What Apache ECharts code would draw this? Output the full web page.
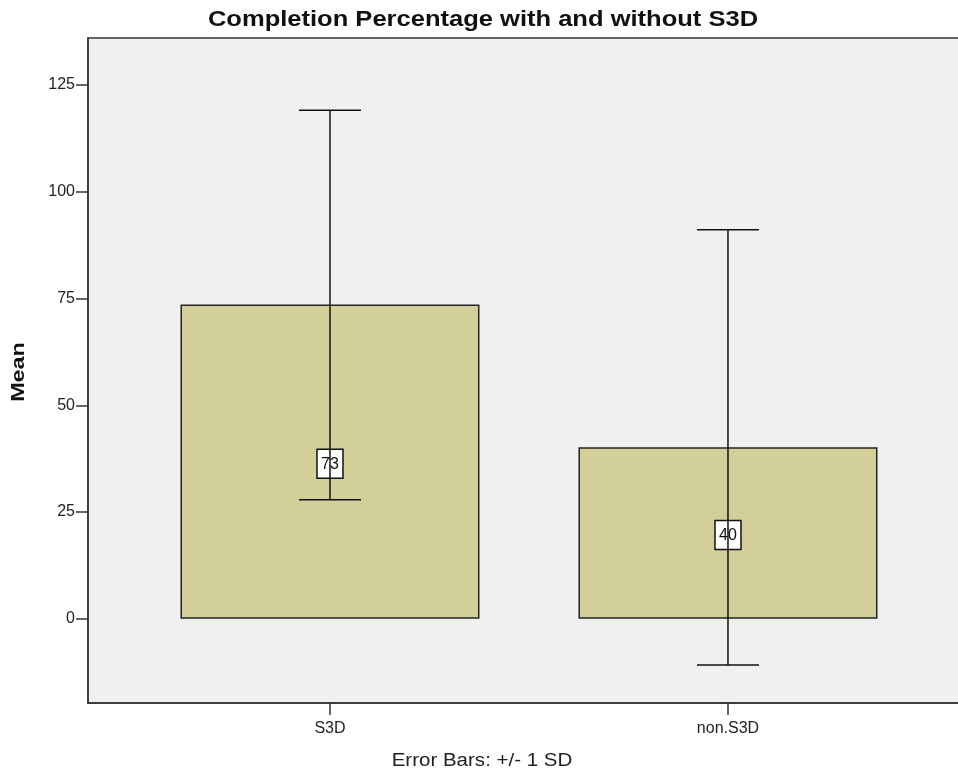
<!DOCTYPE html>
<html>
<head>
<meta charset="utf-8">
<script src="https://cdn.jsdelivr.net/npm/echarts@6/dist/echarts.min.js"></script>
<style>
html,body{margin:0;padding:0;background:#fff;}
#chart{width:958px;height:772px;}
</style>
</head>
<body>
<div id="chart"></div>
<script>
var categories = ['S3D', 'non.S3D'];
var means = [73.6, 40.2];
var upperSD = [119.1, 91.1];
var lowerSD = [27.9, -10.8];
var valueLabels = ['73', '40'];
var yTicks = [0, 25, 50, 75, 100, 125];
var xTicks = [0, 1];

var FONT = '"Liberation Sans", Arial, sans-serif';
var chart = echarts.init(document.getElementById('chart'), null, {renderer: 'canvas'});

var option = {
  backgroundColor: '#ffffff',
  animation: false,
  graphic: [
    {type: 'text', x: 483, y: 20, scaleX: 1.16,
     style: {text: 'Completion Percentage with and without S3D', align: 'center', verticalAlign: 'middle',
             font: 'bold 22px "Liberation Sans", Arial, sans-serif', fill: '#111'}},
    {type: 'text', x: 482, y: 761, scaleX: 1.14,
     style: {text: 'Error Bars: +/- 1 SD', align: 'center', verticalAlign: 'middle',
             font: '18px "Liberation Sans", Arial, sans-serif', fill: '#222'}},
    {type: 'text', x: 19, y: 372, rotation: Math.PI / 2, scaleX: 1.23,
     style: {text: 'Mean', align: 'center', verticalAlign: 'middle',
             font: 'bold 19px "Liberation Sans", Arial, sans-serif', fill: '#111'}}
  ],
  grid: {
    left: 88, right: -5, top: 38, bottom: 69, outerBoundsMode: 'none', containLabel: false,
    show: true, backgroundColor: '#f0f0f0', borderColor: '#333', borderWidth: 1.5
  },
  xAxis: {
    type: 'value', min: -0.608, max: 1.5905,
    splitLine: {show: false},
    axisLine: {show: true, onZero: false, lineStyle: {color: '#333', width: 1.5}},
    axisTick: {show: true, length: 12, customValues: xTicks, lineStyle: {color: '#333', width: 1.5}},
    axisLabel: {fontFamily: FONT, fontSize: 16, color: '#222', margin: 18, customValues: xTicks,
      formatter: function (v) { return categories[Math.round(v)] || ''; }}
  },
  yAxis: {
    type: 'value', min: -19.7, max: 136,
    splitLine: {show: false},
    axisLine: {show: true, onZero: false, lineStyle: {color: '#333', width: 1.5}},
    axisTick: {show: true, length: 12, customValues: yTicks, lineStyle: {color: '#333', width: 1.5}},
    axisLabel: {fontFamily: FONT, fontSize: 16, color: '#222', margin: 13, customValues: yTicks}
  },
  series: [
    {
      type: 'bar', barWidth: 299,
      data: categories.map(function (c, i) { return [i, means[i]]; }),
      itemStyle: {color: '#d3cf98', borderColor: '#222', borderWidth: 1.5},
      z: 2
    },
    {
      type: 'custom', z: 5,
      data: categories.map(function (c, i) { return [i, lowerSD[i], upperSD[i]]; }),
      renderItem: function (params, api) {
        var x = api.value(0);
        var lo = api.coord([x, api.value(1)]);
        var hi = api.coord([x, api.value(2)]);
        var half = 31;
        var st = {stroke: '#111', lineWidth: 1.5};
        return {type: 'group', children: [
          {type: 'line', shape: {x1: lo[0], y1: lo[1], x2: hi[0], y2: hi[1]}, style: st},
          {type: 'line', shape: {x1: lo[0]-half, y1: lo[1], x2: lo[0]+half, y2: lo[1]}, style: st},
          {type: 'line', shape: {x1: hi[0]-half, y1: hi[1], x2: hi[0]+half, y2: hi[1]}, style: st}
        ]};
      }
    },
    {
      type: 'custom', z: 6,
      data: categories.map(function (c, i) { return [i, means[i] / 2]; }),
      renderItem: function (params, api) {
        var p = api.coord([api.value(0), api.value(1)]);
        var cy = p[1] + 2;
        var w = 26, h = 29;
        return {type: 'group', children: [
          {type: 'rect', shape: {x: p[0]-w/2, y: cy-h/2, width: w, height: h},
           style: {fill: '#ffffff', stroke: '#111', lineWidth: 1.5}},
          {type: 'text', style: {text: valueLabels[params.dataIndex], x: p[0], y: cy+1, align: 'center', verticalAlign: 'middle',
            font: '16px "Liberation Sans", Arial, sans-serif', fill: '#111'}},
          {type: 'line', shape: {x1: p[0], y1: cy-h/2, x2: p[0], y2: cy+h/2}, style: {stroke: '#111', lineWidth: 1.5}}
        ]};
      }
    }
  ]
};
chart.setOption(option);
</script>
</body>
</html>
